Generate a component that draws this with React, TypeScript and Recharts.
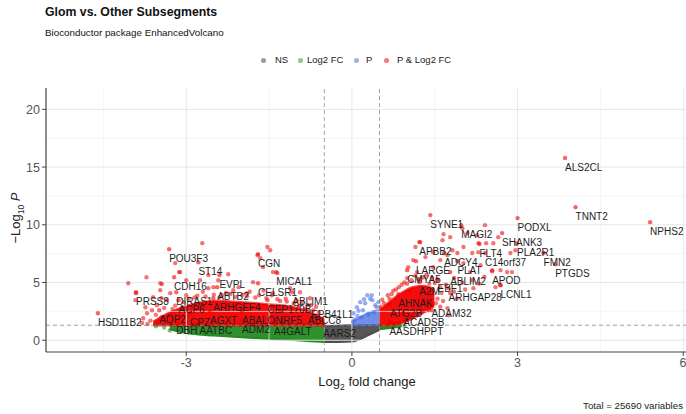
import React from "react";
import { ComposedChart, XAxis, YAxis, Area, Scatter, ReferenceLine } from "recharts";

const title = "Glom vs. Other Subsegments";
const subtitle = "Bioconductor package EnhancedVolcano";
const caption = "Total = 25690 variables";
const legendItems = ["NS", "Log2 FC", "P", "P & Log2 FC"];

const xTicks = [-3, 0, 3, 6];
const yTicks = [0, 5, 10, 15, 20];
const xMinor = [-4.5, -1.5, 1.5, 4.5];
const yMinor = [2.5, 7.5, 12.5, 17.5];
const fcCutoff = 0.5;
const pCutoff = 1.3;

// dense cores of the cloud (log2FC grid, -log10 p low/high)
const coreX = [-3.6, -3.3, -2.9, -2.5, -2.0, -1.5, -1.0, -0.75, -0.5, -0.25, 0, 0.15, 0.3, 0.5, 0.7, 0.9, 1.1, 1.3, 1.5];
const greenLow = [null, 0.95, 0.55, 0.4, 0.25, 0.12, 0.0, -0.08, -0.15, null, null, null, null, 0.95, 1.05, 1.2, null, null, null];
const greenHigh = [null, 1.35, 1.4, 1.4, 1.4, 1.4, 1.4, 1.4, 1.4, null, null, null, null, 1.35, 1.35, 1.35, null, null, null];
const grayLow = [null, null, null, null, null, null, null, null, -0.15, -0.15, -0.12, 0.1, 0.45, 0.9, null, null, null, null, null];
const grayHigh = [null, null, null, null, null, null, null, null, 1.2, 1.25, 1.3, 1.3, 1.3, 1.3, null, null, null, null, null];
const blueLow = [null, null, null, null, null, null, null, null, null, null, 1.3, 1.3, 1.3, 1.3, null, null, null, null, null];
const blueHigh = [null, null, null, null, null, null, null, null, null, null, 1.6, 2.0, 2.4, 2.6, null, null, null, null, null];
const redLow = [1.3, 1.3, 1.3, 1.3, 1.3, 1.3, 1.3, 1.3, 1.3, null, null, null, null, 1.3, 1.3, 1.5, 1.9, 2.4, 3.0];
const redHigh = [1.6, 2.4, 3.1, 3.4, 3.3, 3.1, 2.8, 2.4, 1.8, null, null, null, null, 2.6, 3.4, 4.1, 4.6, 4.7, 4.4];

// scattered points [log2FC, -log10 p]
const redLeft: [number, number][] = [
  [-4.05, 4.94], [-3.72, 5.46], [-3.91, 4.08], [-3.44, 4.86], [-3.13, 5.9], [-3.2, 6.68], [-3.45, 3.64],
  [-3.74, 2.86], [-3.71, 2.34], [-3.78, 1.91], [-3.62, 2.6], [-3.53, 3.04], [-3.35, 3.47], [-3.47, 4.34],
  [-3.29, 4.08], [-3.6, 3.73], [-2.71, 8.41], [-3.11, 5.9], [-3.0, 5.2], [-2.6, 5.64], [-2.24, 5.72],
  [-2.42, 5.2], [-1.71, 7.37], [-1.53, 8.07], [-1.48, 7.8], [-1.66, 7.11], [-1.43, 5.9], [-1.35, 5.81],
  [-1.61, 6.33], [-2.75, 5.2], [-1.79, 5.03], [-0.94, 4.16], [-1.12, 4.51], [-0.76, 3.64], [-3.47, 4.94],
  [-3.92, 3.47], [-2.15, 4.34], [-2.51, 4.6], [-1.9, 4.08], [-1.43, 4.08], [-3.0, 3.9], [-2.7, 4.2],
  [-2.2, 4.0], [-1.9, 3.8], [-1.6, 4.3], [-1.2, 3.6], [-0.9, 3.3], [-0.65, 2.9], [-0.6, 2.4], [-3.4, 2.8],
  [-3.55, 2.2], [-3.65, 1.7], [-3.8, 1.5], [-2.85, 3.7], [-2.35, 3.9], [-1.75, 3.7], [-1.3, 3.4],
  [-1.05, 3.2], [-0.85, 2.7], [-2.05, 4.6], [-2.6, 4.5], [-3.2, 3.0], [-3.3, 2.2],
  [-3.45, 2.0], [-3.25, 2.7], [-3.05, 3.3], [-2.95, 3.6], [-2.8, 3.85], [-2.65, 3.8], [-2.5, 3.95],
  [-2.4, 3.7], [-2.28, 4.1], [-2.1, 3.75], [-1.98, 3.95], [-1.85, 4.2], [-1.68, 3.9], [-1.55, 3.65],
  [-1.45, 3.9], [-1.35, 3.55], [-1.18, 3.35], [-1.0, 3.45], [-0.95, 3.0], [-0.8, 3.05], [-0.7, 2.6],
  [-0.62, 2.1], [-0.55, 1.8], [-3.7, 1.4], [-3.5, 1.55],
];
const redRight: [number, number][] = [
  [1.24, 8.5], [2.02, 8.07], [2.29, 8.41], [2.43, 8.41], [2.56, 8.41], [2.65, 8.93], [2.87, 7.55],
  [2.96, 7.8], [2.54, 6.07], [2.69, 6.07], [2.81, 5.9], [2.9, 5.9], [2.69, 4.77], [2.2, 4.51], [2.18, 5.2],
  [1.78, 4.08], [1.73, 2.78], [1.75, 2.17], [1.3, 3.3], [1.39, 2.6], [2.33, 6.5], [2.29, 7.63], [2.18, 7.55],
  [1.91, 7.55], [1.82, 7.8], [1.73, 7.37], [2.02, 6.68], [2.14, 5.9], [1.47, 6.33], [1.6, 6.94], [1.33, 7.2],
  [1.11, 6.94], [1.02, 6.33], [1.18, 5.9], [1.15, 8.07], [1.47, 7.63], [1.64, 8.67], [1.78, 8.93],
  [2.09, 9.28], [2.27, 9.1], [2.0, 9.71], [2.41, 9.97], [1.0, 5.38], [1.24, 5.29], [1.66, 9.19],
  [0.55, 3.5], [0.65, 3.9], [0.75, 4.3], [0.95, 5.0], [1.15, 5.6], [1.35, 5.7], [1.55, 5.2], [1.7, 4.8],
  [1.85, 4.2], [1.9, 3.6], [1.65, 3.4], [1.6, 2.9], [1.45, 2.6], [1.85, 5.4], [2.0, 5.0], [2.05, 4.4],
  [2.3, 4.9], [2.4, 5.5], [2.6, 4.6], [0.85, 4.6], [1.05, 4.2], [1.25, 4.6], [1.4, 4.9],
  [0.52, 2.9], [0.58, 3.2], [0.68, 3.6], [0.72, 4.0], [0.8, 4.4], [0.9, 4.8], [1.0, 4.9], [1.08, 5.2],
  [1.2, 5.3], [1.3, 5.45], [1.45, 5.4], [1.5, 4.95], [1.6, 4.6], [1.62, 4.1], [1.55, 3.6], [1.52, 3.2],
  [1.4, 2.9], [1.28, 2.5], [1.18, 2.2], [1.05, 1.9], [0.95, 1.7], [0.85, 1.5], [0.75, 1.45],
];
const bluePts: [number, number][] = [
  [0.28, 3.9], [0.15, 3.3], [0.37, 3.47], [0.09, 2.86], [0.42, 3.04], [0.03, 2.34], [0.2, 2.6],
  [0.45, 2.86], [0.33, 3.6], [0.1, 2.1], [0.24, 3.2], [0.05, 1.8], [0.4, 2.4], [0.17, 2.0], [0.3, 2.2],
  [0.48, 3.3], [0.12, 2.55], [0.36, 3.9], [0.22, 3.55], [0.02, 1.6],
];
const greenPts: [number, number][] = [
  [-3.4, 1.1], [-3.55, 1.2], [-3.3, 0.85], [-3.1, 0.75], [0.95, 1.25], [0.85, 1.15],
];

// labelled genes
const genes = [
  "ALS2CL", "TNNT2", "NPHS2", "PODXL", "SYNE1", "MAGI2", "SHANK3", "APBB2", "PLA2R1", "FLT4",
  "ADCY4", "C14orf37", "FMN2", "LARGE", "PLAT", "PTGDS", "CMYA5", "ABLIM2", "APOD", "A2M",
  "EBF1", "LCNL1", "ARHGAP28", "AHNAK", "ATG2B", "ADAM32", "ACADSB", "AASDHPPT",
  "POU3F3", "ST14", "CGN", "CDH16", "EVPL", "MICAL1", "ABTB2", "CELSR1", "PRSS8", "DIRAS1",
  "ABLIM1", "ACP6", "ARHGEF4", "CEP170B", "EPB41L1", "AQP2", "CPZ", "AGXT", "ABALON", "IRF5",
  "ABCC8", "HSD11B2", "DBH", "AATBC", "ADM2", "A4GALT", "AARS2",
];
const geneFC = [
  3.86, 4.05, 5.4, 3.0, 1.42, 1.98, 2.72, 1.22, 2.99, 2.31,
  1.67, 2.41, 3.47, 1.16, 1.91, 3.68, 1.0, 1.78, 2.54, 1.22,
  1.55, 2.69, 1.75, 0.84, 0.69, 1.44, 0.93, 0.68,
  -3.31, -2.78, -1.7, -3.22, -2.4, -1.37, -2.44, -1.7, -3.91, -3.18,
  -1.08, -3.14, -2.51, -1.53, -0.74, -3.49, -2.93, -2.57, -1.99, -1.3,
  -0.8, -4.6, -3.18, -2.76, -1.99, -1.41, -0.52,
];
const geneP = [
  15.78, 11.53, 10.23, 10.58, 10.84, 9.97, 9.28, 8.5, 8.41, 8.33,
  7.55, 7.55, 7.55, 6.85, 6.85, 6.59, 6.07, 5.9, 5.98, 5.03,
  5.29, 4.77, 4.51, 3.99, 3.12, 3.12, 2.34, 1.56,
  7.89, 6.76, 7.46, 5.46, 5.64, 5.9, 4.6, 4.94, 4.16, 4.16,
  4.16, 3.47, 3.64, 3.47, 3.04, 2.6, 2.34, 2.52, 2.52, 2.52,
  2.52, 2.34, 1.65, 1.65, 1.73, 1.56, 1.39,
];

const FONT = '"Liberation Sans", Arial, sans-serif';
const C_NS = "#4d4d4d";
const C_FC = "#228B22";
const C_P = "#4169E1";
const C_BOTH = "#EE0000";

const pair = (lo: (number | null)[], hi: (number | null)[], i: number) =>
  lo[i] == null || hi[i] == null ? null : [lo[i], hi[i]];

const coreData = coreX.map((x, i) => ({
  x,
  gray: pair(grayLow, grayHigh, i),
  green: pair(greenLow, greenHigh, i),
  blue: pair(blueLow, blueHigh, i),
  red: pair(redLow, redHigh, i),
}));

const toPts = (arr: [number, number][]) => arr.map(([x, y]) => ({ x, y }));

const geneData = genes.map((gene, i) => ({ gene, x: geneFC[i], y: geneP[i] }));
const geneColor = (x: number, y: number) => {
  const fc = Math.abs(x) > fcCutoff;
  const p = y > pCutoff;
  if (fc && p) return C_BOTH;
  if (fc) return C_FC;
  if (p) return C_P;
  return C_NS;
};

const dot = (color: string) => (props: any) => (
  <circle cx={props.cx} cy={props.cy} r={2.2} fill={color} fillOpacity={0.55} />
);

const geneDot = (props: any) => (
  <circle cx={props.cx} cy={props.cy} r={2.2} fill={geneColor(props.payload.x, props.payload.y)} fillOpacity={0.6} />
);

const geneLabel = (props: any) => (
  <text x={props.cx} y={props.cy + 12.5} fontSize={10} fill="#1e1e1e" fontFamily={FONT}>
    {props.payload.gene}
  </text>
);

const legendDots = ["#9a9a9a", "#8cc88c", "#9fb2ee", "#f27a7a"];
const legendDotX = [263, 300, 356, 386];
const legendTextX = [275, 307, 366, 397];

export default function App() {
  return (
    <div
      style={{
        position: "absolute",
        left: 0,
        top: 0,
        width: 686,
        height: 414,
        background: "#fff",
        fontFamily: FONT,
        overflow: "hidden",
      }}
    >
      <ComposedChart
        width={686}
        height={414}
        data={coreData}
        margin={{ top: 88, right: 0, bottom: 42, left: 0 }}
      >
        {xMinor.map((v) => (
          <ReferenceLine key={"xm" + v} x={v} stroke="#f0f0f0" strokeWidth={0.7} />
        ))}
        {yMinor.map((v) => (
          <ReferenceLine key={"ym" + v} y={v} stroke="#f0f0f0" strokeWidth={0.7} />
        ))}
        {xTicks.map((v) => (
          <ReferenceLine key={"xM" + v} x={v} stroke="#e6e6e6" strokeWidth={1} />
        ))}
        {yTicks.map((v) => (
          <ReferenceLine key={"yM" + v} y={v} stroke="#e6e6e6" strokeWidth={1} />
        ))}
        <XAxis
          type="number"
          dataKey="x"
          domain={[-5.54, 6.05]}
          ticks={xTicks}
          allowDataOverflow
          height={20}
          tickSize={4}
          tick={{ fill: "#555", fontSize: 12.5, fontFamily: FONT }}
          tickLine={{ stroke: "#444" }}
          axisLine={{ stroke: "#444", strokeWidth: 1.2 }}
        />
        <YAxis
          type="number"
          dataKey="y"
          domain={[-1.02, 21.85]}
          ticks={yTicks}
          allowDataOverflow
          width={46}
          tickSize={4}
          tickMargin={2}
          tick={{ fill: "#555", fontSize: 12.5, fontFamily: FONT }}
          tickLine={{ stroke: "#444" }}
          axisLine={{ stroke: "#444", strokeWidth: 1.2 }}
        />
        <Area dataKey="gray" type="monotone" fill={C_NS} fillOpacity={0.95} stroke={C_NS} strokeWidth={2} isAnimationActive={false} connectNulls={false} />
        <Area dataKey="green" type="monotone" fill={C_FC} fillOpacity={0.95} stroke={C_FC} strokeWidth={2} isAnimationActive={false} connectNulls={false} />
        <Area dataKey="blue" type="monotone" fill={C_P} fillOpacity={0.75} stroke={C_P} strokeOpacity={0.6} strokeWidth={2} isAnimationActive={false} connectNulls={false} />
        <Area dataKey="red" type="monotone" fill="#f20000" fillOpacity={0.95} stroke="#f20000" strokeOpacity={0.7} strokeWidth={2.5} isAnimationActive={false} connectNulls={false} />
        <Scatter data={toPts(greenPts)} shape={dot(C_FC)} isAnimationActive={false} />
        <Scatter data={toPts(bluePts)} shape={dot(C_P)} isAnimationActive={false} />
        <Scatter data={toPts(redLeft)} shape={dot(C_BOTH)} isAnimationActive={false} />
        <Scatter data={toPts(redRight)} shape={dot(C_BOTH)} isAnimationActive={false} />
        <Scatter data={geneData} shape={geneDot} isAnimationActive={false} />
        <ReferenceLine x={-fcCutoff} stroke="#8a8a8a" strokeDasharray="4 3" strokeWidth={0.8} />
        <ReferenceLine x={fcCutoff} stroke="#8a8a8a" strokeDasharray="4 3" strokeWidth={0.8} />
        <ReferenceLine y={pCutoff} stroke="#8a8a8a" strokeDasharray="4 3" strokeWidth={0.8} />
        <Scatter data={geneData} shape={geneLabel} isAnimationActive={false} />
      </ComposedChart>

      <div style={{ position: "absolute", left: 45, top: 6, fontSize: 12.3, fontWeight: "bold", lineHeight: 1, color: "#111" }}>
        {title}
      </div>
      <div style={{ position: "absolute", left: 45, top: 28, fontSize: 9.8, lineHeight: 1, color: "#111" }}>
        {subtitle}
      </div>

      {legendItems.map((item, i) => (
        <React.Fragment key={item}>
          <div
            style={{
              position: "absolute",
              left: legendDotX[i] - 2.5,
              top: 57.5,
              width: 5,
              height: 5,
              borderRadius: "50%",
              background: legendDots[i],
            }}
          />
          <div style={{ position: "absolute", left: legendTextX[i], top: 55, fontSize: 9.5, lineHeight: 1, color: "#222" }}>
            {item}
          </div>
        </React.Fragment>
      ))}

      <div style={{ position: "absolute", left: 267, width: 200, top: 375, fontSize: 13, lineHeight: 1, color: "#222", textAlign: "center" }}>
        Log<sub style={{ fontSize: 8.5 }}>2</sub> fold change
      </div>
      <div
        style={{
          position: "absolute",
          left: 17 - 60,
          top: 218 - 8,
          width: 120,
          fontSize: 13,
          lineHeight: 1,
          color: "#222",
          textAlign: "center",
          transform: "rotate(-90deg)",
        }}
      >
        −Log<sub style={{ fontSize: 8.5 }}>10</sub> <i>P</i>
      </div>
      <div style={{ position: "absolute", right: 3, top: 401, fontSize: 9.7, lineHeight: 1, color: "#222" }}>
        {caption}
      </div>
    </div>
  );
}
